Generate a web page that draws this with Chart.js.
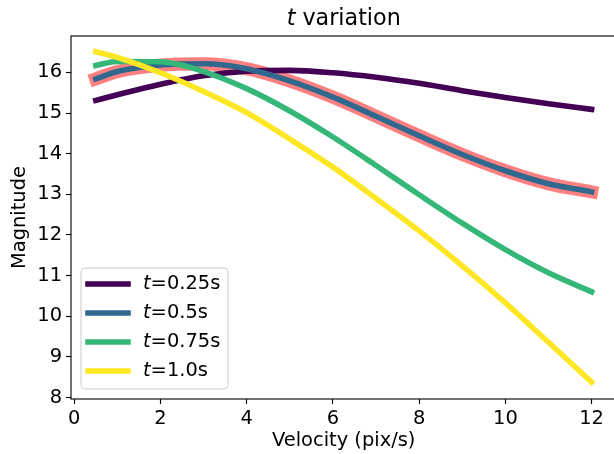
<!DOCTYPE html>
<html>
<head>
<meta charset="utf-8">
<script src="https://cdn.jsdelivr.net/npm/chart.js@4/dist/chart.umd.min.js"></script>
<style>
  html, body { margin: 0; padding: 0; background: #fff; overflow: hidden; }
  #wrap { width: 620px; height: 454px; }
</style>
</head>
<body>
<div id="wrap"><canvas id="c" width="620" height="454"></canvas></div>
<script>
// Velocity samples (pix/s)
const velocity = [0.5, 1, 2, 3, 4, 5, 6, 7, 8, 9, 10, 11, 12];

// Magnitude curves for each exposure time t
const magT025 = [15.31, 15.45, 15.71, 15.92, 16.03, 16.05, 15.99, 15.88, 15.73, 15.55, 15.38, 15.23, 15.09];
const magT050 = [15.84, 16.02, 16.18, 16.21, 16.09, 15.79, 15.39, 14.92, 14.44, 13.98, 13.58, 13.26, 13.06];
const magT075 = [16.17, 16.27, 16.26, 16.02, 15.60, 15.05, 14.41, 13.71, 12.99, 12.29, 11.64, 11.07, 10.60];
const magT100 = [16.51, 16.37, 15.99, 15.53, 15.01, 14.36, 13.67, 12.90, 12.10, 11.24, 10.33, 9.36, 8.38];

const seriesLabels = ['0.25s', '0.5s', '0.75s', '1.0s'];
const seriesColors = ['#440154', '#31688e', '#35b779', '#fde725'];
const highlightColor = '#ff8080';

const xTicks = [0, 2, 4, 6, 8, 10, 12];
const yTicks = [8, 9, 10, 11, 12, 13, 14, 15, 16];

const FONT = 'DejaVu Sans';
const PT = 100 / 72;

function pts(ys) { return velocity.map((v, i) => ({ x: v, y: ys[i] })); }

const lineBase = {
  fill: false, pointRadius: 0, pointHoverRadius: 0,
  cubicInterpolationMode: 'monotone',
  borderCapStyle: 'square', borderJoinStyle: 'round'
};

// Frame, title and legend drawn on the canvas
const decor = {
  id: 'decor',
  afterDatasetsDraw(chart) {
    const { ctx, chartArea: a } = chart;
    ctx.save();
    // axes frame
    ctx.strokeStyle = '#000';
    ctx.lineWidth = 0.8 * PT;
    ctx.strokeRect(a.left, a.top, a.right - a.left, a.bottom - a.top);

    // title with italic t
    const tsize = 16 * PT;
    const cx = (a.left + a.right) / 2;
    ctx.fillStyle = '#000';
    ctx.textBaseline = 'alphabetic';
    ctx.font = `italic ${tsize}px "${FONT}"`;
    const w1 = ctx.measureText('t').width;
    ctx.font = `${tsize}px "${FONT}"`;
    const w2 = ctx.measureText(' variation').width;
    const x0 = cx - (w1 + w2) / 2;
    const ty = 25;
    ctx.font = `italic ${tsize}px "${FONT}"`;
    ctx.fillText('t', x0, ty);
    ctx.font = `${tsize}px "${FONT}"`;
    ctx.fillText(' variation', x0 + w1, ty);

    // legend
    const lx = 81, ly = 268, lw = 147, lh = 121, r = 4;
    ctx.beginPath();
    ctx.moveTo(lx + r, ly);
    ctx.arcTo(lx + lw, ly, lx + lw, ly + lh, r);
    ctx.arcTo(lx + lw, ly + lh, lx, ly + lh, r);
    ctx.arcTo(lx, ly + lh, lx, ly, r);
    ctx.arcTo(lx, ly, lx + lw, ly, r);
    ctx.closePath();
    ctx.fillStyle = 'rgba(255,255,255,0.8)';
    ctx.fill();
    ctx.strokeStyle = '#cccccc';
    ctx.lineWidth = 1;
    ctx.stroke();

    const fsize = 14 * PT;
    const rows = [284, 313, 342, 371];
    seriesLabels.forEach((lab, i) => {
      const y = rows[i];
      ctx.beginPath();
      ctx.strokeStyle = seriesColors[i];
      ctx.lineWidth = 4 * PT;
      ctx.lineCap = 'square';
      ctx.moveTo(88, y);
      ctx.lineTo(128, y);
      ctx.stroke();
      ctx.fillStyle = '#000';
      ctx.textBaseline = 'middle';
      ctx.font = `italic ${fsize}px "${FONT}"`;
      ctx.fillText('t', 143, y);
      const tw = ctx.measureText('t').width;
      ctx.font = `${fsize}px "${FONT}"`;
      ctx.fillText('=' + lab, 143 + tw, y);
    });
    ctx.restore();
  }
};

new Chart(document.getElementById('c'), {
  type: 'line',
  data: {
    datasets: [
      { ...lineBase, label: 'highlight', data: pts(magT050), borderColor: highlightColor, borderWidth: 9.5 * PT, order: 5 },
      { ...lineBase, label: 't=' + seriesLabels[0], data: pts(magT025), borderColor: seriesColors[0], borderWidth: 4 * PT, order: 4 },
      { ...lineBase, label: 't=' + seriesLabels[1], data: pts(magT050), borderColor: seriesColors[1], borderWidth: 4 * PT, order: 3 },
      { ...lineBase, label: 't=' + seriesLabels[2], data: pts(magT075), borderColor: seriesColors[2], borderWidth: 4 * PT, order: 2 },
      { ...lineBase, label: 't=' + seriesLabels[3], data: pts(magT100), borderColor: seriesColors[3], borderWidth: 4 * PT, order: 1 }
    ]
  },
  options: {
    responsive: false,
    animation: false,
    events: [],
    layout: { padding: { top: 36, right: 3.6, left: 0, bottom: 0 } },
    plugins: { legend: { display: false }, title: { display: false }, tooltip: { enabled: false } },
    scales: {
      x: {
        type: 'linear', min: -0.075, max: 12.575,
        afterFit(s) { s.height = 55; },
        afterBuildTicks(s) { s.ticks = xTicks.map(v => ({ value: v })); },
        grid: { drawOnChartArea: false, drawTicks: true, tickLength: 5, tickWidth: 0.8 * PT, tickColor: '#000' },
        border: { display: false },
        ticks: { color: '#000', padding: 3, maxRotation: 0, font: { family: FONT, size: 14 * PT } },
        title: { display: true, text: 'Velocity (pix/s)', color: '#000', padding: { top: 0, bottom: 1.3 }, font: { family: FONT, size: 14 * PT } }
      },
      y: {
        type: 'linear', min: 7.965, max: 16.895,
        afterFit(s) { s.width = 71; },
        afterBuildTicks(s) { s.ticks = yTicks.map(v => ({ value: v })); },
        grid: { drawOnChartArea: false, drawTicks: true, tickLength: 5, tickWidth: 0.8 * PT, tickColor: '#000' },
        border: { display: false },
        ticks: { color: '#000', padding: 4, font: { family: FONT, size: 14 * PT } },
        title: { display: true, text: 'Magnitude', color: '#000', padding: { top: 8.3, bottom: 0 }, font: { family: FONT, size: 14 * PT } }
      }
    }
  },
  plugins: [decor]
});
</script>
</body>
</html>
